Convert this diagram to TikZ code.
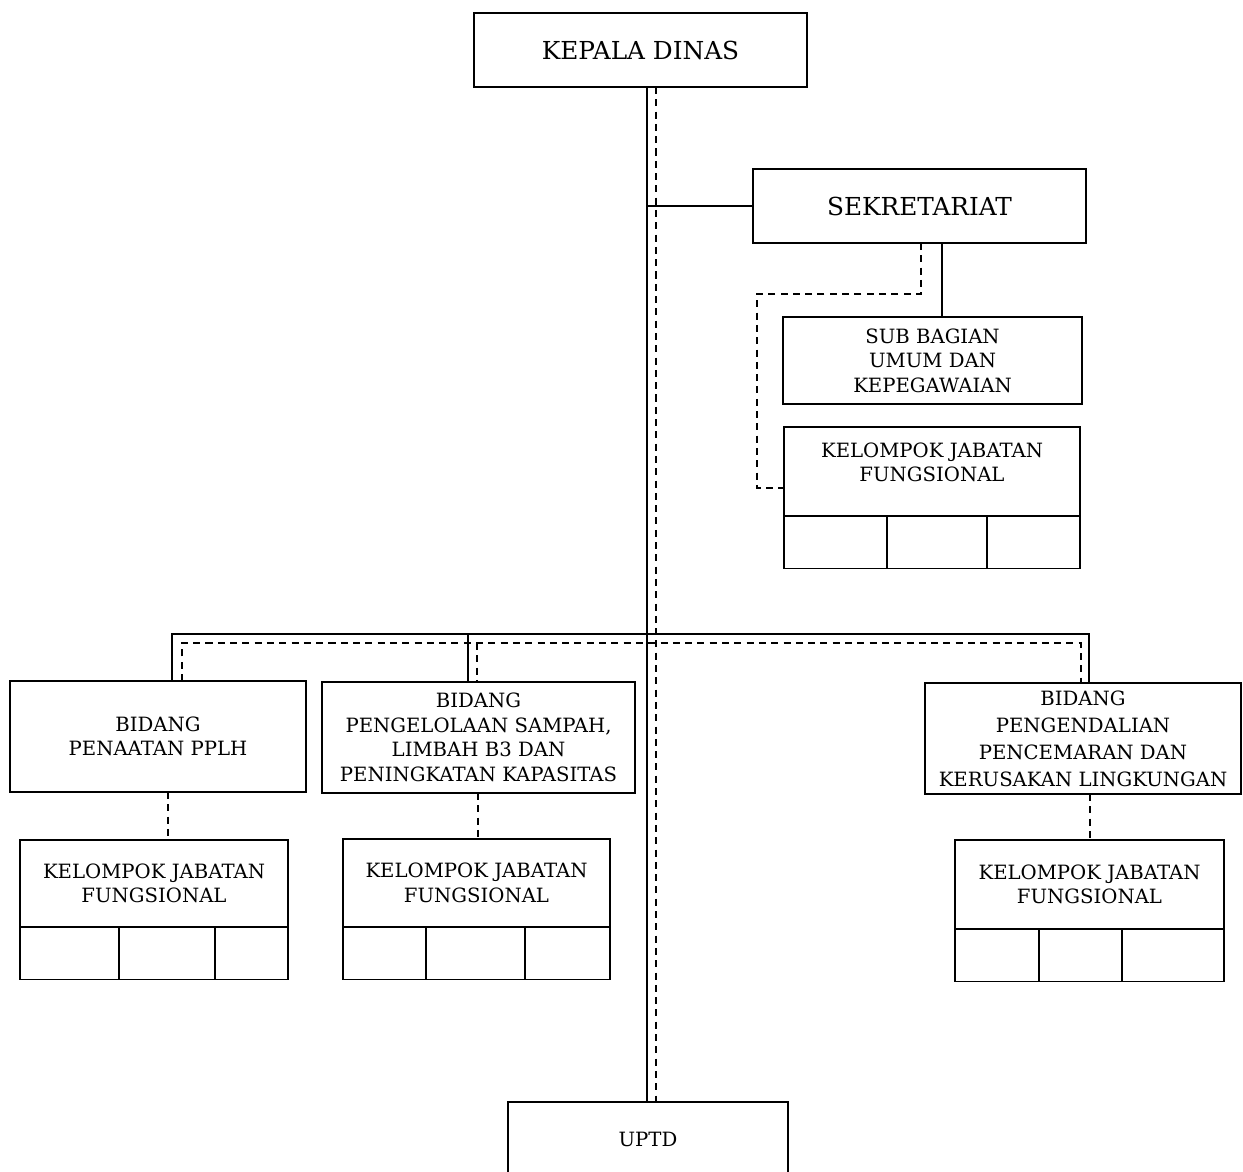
\documentclass[tikz,border=0pt]{standalone}
\usepackage{fontspec}
\setmainfont{DejaVu Serif}
\usepackage{tikz}
\usetikzlibrary{positioning}
\tikzstyle{unit} = [rectangle, draw=black, line width=1pt, inner sep=0pt, outer sep=0pt, align=center, font=\fontsize{11.2}{14}\selectfont]
\tikzstyle{head} = [unit, font=\fontsize{14.1}{16}\selectfont]
\tikzstyle{caption} = [inner sep=0pt, align=center, font=\fontsize{11.2}{14}\selectfont]
\tikzstyle{cell} = [rectangle, draw=black, line width=1pt, inner sep=0pt, outer sep=0pt, minimum height=1.05cm]
\tikzstyle{solidlink} = [line width=1pt]
\tikzstyle{dashlink} = [line width=1pt, dash pattern=on 4pt off 3pt]

\begin{document}
\begin{tikzpicture}[x=0.02cm, y=-0.02cm]
		\clip (0,0) rectangle (1243,1171);
		\node (kadis) [head, minimum width=6.66cm, minimum height=1.48cm] at (640.5,50) {KEPALA DINAS};
		\node (sekre) [head, minimum width=6.66cm, minimum height=1.48cm] at (919.5,206) {SEKRETARIAT};
		\node (subbag) [unit, minimum width=5.98cm, minimum height=1.74cm] at (932.5,360.5) {SUB BAGIAN\\UMUM DAN\\KEPEGAWAIAN};
		\node (kjfsek) [unit, minimum width=5.92cm, minimum height=1.78cm] at (932,471.5) {};
		\node (kjfsektext) [caption] at ([yshift=0.18cm]kjfsek.center) {KELOMPOK JABATAN\\FUNGSIONAL};
		\node (kjfsek1) [cell, minimum width=2.06cm, below right=0pt and 0pt of kjfsek.south west] {};
		\node (kjfsek2) [cell, minimum width=2.0cm, right=0pt of kjfsek1] {};
		\node (kjfsek3) [cell, minimum width=1.86cm, right=0pt of kjfsek2] {};
		\node (bid1) [unit, minimum width=5.92cm, minimum height=2.22cm] at (158,736.5) {BIDANG\\PENAATAN PPLH};
		\node (bid2) [unit, minimum width=6.26cm, minimum height=2.22cm] at (478.5,737.5) {BIDANG\\PENGELOLAAN SAMPAH,\\LIMBAH B3 DAN\\PENINGKATAN KAPASITAS};
		\node (bid3) [unit, minimum width=6.32cm, minimum height=2.22cm, font=\fontsize{11.2}{15.3}\selectfont] at (1083,738.5) {BIDANG\\PENGENDALIAN\\PENCEMARAN DAN\\KERUSAKAN LINGKUNGAN};
		\node (kjf1) [unit, minimum width=5.36cm, minimum height=1.74cm] at (154,883.5) {KELOMPOK JABATAN\\FUNGSIONAL};
		\node (kjf1a) [cell, minimum width=1.98cm, below right=0pt and 0pt of kjf1.south west] {};
		\node (kjf1b) [cell, minimum width=1.92cm, right=0pt of kjf1a] {};
		\node (kjf1c) [cell, minimum width=1.46cm, right=0pt of kjf1b] {};
		\node (kjf2) [unit, minimum width=5.34cm, minimum height=1.76cm] at (476.5,883) {KELOMPOK JABATAN\\FUNGSIONAL};
		\node (kjf2a) [cell, minimum width=1.66cm, below right=0pt and 0pt of kjf2.south west] {};
		\node (kjf2b) [cell, minimum width=1.98cm, right=0pt of kjf2a] {};
		\node (kjf2c) [cell, minimum width=1.70cm, right=0pt of kjf2b] {};
		\node (kjf3) [unit, minimum width=5.38cm, minimum height=1.78cm] at (1089.5,884.5) {KELOMPOK JABATAN\\FUNGSIONAL};
		\node (kjf3a) [cell, minimum width=1.68cm, below right=0pt and 0pt of kjf3.south west] {};
		\node (kjf3b) [cell, minimum width=1.66cm, right=0pt of kjf3a] {};
		\node (kjf3c) [cell, minimum width=2.04cm, right=0pt of kjf3b] {};
		\node (uptd) [unit, minimum width=5.6cm, minimum height=1.48cm] at (648,1139) {UPTD};
		\coordinate (spine) at (647,0);
		\coordinate (dspine) at (656,0);
		\coordinate (sekline) at (942,0);
		\coordinate (sekdash) at (921,0);
		\coordinate (sekturn) at (757,294);
		\coordinate (sekback) at (757,488);
		\coordinate (busl) at (172,634);
		\coordinate (busm) at (468,634);
		\coordinate (busr) at (1089,634);
		\coordinate (dbusl) at (182,643);
		\coordinate (dbusm) at (477,643);
		\coordinate (dbusr) at (1081,643);
		\coordinate (drop1) at (168,0);
		\coordinate (drop2) at (478,0);
		\coordinate (drop3) at (1090,0);
		\draw [solidlink] (kadis.south -| spine) -- (uptd.north -| spine);
		\draw [dashlink] (kadis.south -| dspine) -- (uptd.north -| dspine);
		\draw [solidlink] (sekre.west) -- (sekre.west -| spine);
		\draw [solidlink] (sekre.south -| sekline) -- (subbag.north -| sekline);
		\draw [dashlink] (sekre.south -| sekdash) |- (sekturn) -- (sekback) -- (sekback -| kjfsek.west);
		\draw [solidlink] (bid1.north -| busl) -- (busl) -- (busr) -- (bid3.north -| busr);
		\draw [solidlink] (busm) -- (bid2.north -| busm);
		\draw [dashlink] (bid1.north -| dbusl) -- (dbusl) -- (dbusr) -- (bid3.north -| dbusr);
		\draw [dashlink] (dbusm) -- (bid2.north -| dbusm);
		\draw [dashlink] (bid1.south -| drop1) -- (kjf1.north -| drop1);
		\draw [dashlink] (bid2.south -| drop2) -- (kjf2.north -| drop2);
		\draw [dashlink] (bid3.south -| drop3) -- (kjf3.north -| drop3);
	\end{tikzpicture}
\end{document}
